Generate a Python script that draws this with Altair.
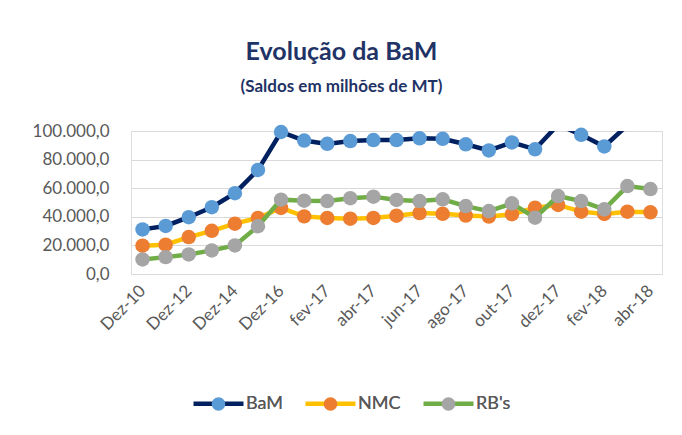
import altair as alt
import pandas as pd

categories = ["Dez-10", "Dez-11", "Dez-12", "Dez-13", "Dez-14", "Dez-15", "Dez-16",
              "jan-17", "fev-17", "mar-17", "abr-17", "mai-17", "jun-17", "jul-17",
              "ago-17", "set-17", "out-17", "nov-17", "dez-17", "jan-18", "fev-18",
              "mar-18", "abr-18"]
shown_labels = categories[::2]

series_names = ["BaM", "NMC", "RB's"]
bam = [31200, 33600, 39700, 46700, 56500, 72800, 99300, 93300, 91000, 93000, 93700, 93700,
       94900, 94500, 90700, 86400, 92000, 87200, 104500, 97300, 89200, 104000, 106000]
nmc = [19800, 20500, 25800, 30200, 35200, 39200, 46200, 40300, 39200, 38700, 39200, 40800,
       42600, 42100, 40900, 40200, 41800, 46400, 48300, 43600, 42000, 43600, 43100]
rbs = [10200, 11800, 13700, 16500, 20000, 33400, 52000, 51300, 51000, 53000, 54100, 51800,
       51000, 52200, 47500, 44000, 49400, 39400, 54500, 51000, 45200, 61500, 59400]

y_ticks = [0, 20000, 40000, 60000, 80000, 100000]

line_colors = ["#002060", "#FFC000", "#70AD47"]
marker_colors = ["#5B9BD5", "#ED7D31", "#A5A5A5"]
navy = "#1F3366"
grey_text = "#595959"
grid_col = "#D9D9D9"
font = "Lato"

rows = []
for name, vals in zip(series_names, [bam, nmc, rbs]):
    for c, v in zip(categories, vals):
        rows.append({"cat": c, "series": name, "value": v})
df = pd.DataFrame(rows)

label_expr = ("replace(replace(replace(format(datum.value, ',.1f'), ',', '#'), '.', ','), '#', '.')")

x_enc = alt.X("cat:N", sort=categories, title=None,
              axis=alt.Axis(values=shown_labels, labelAngle=-45, labelAlign="right",
                            labelBaseline="middle", labelFontSize=17, labelColor=grey_text,
                            labelFont=font, ticks=False, domainColor=grid_col, grid=False,
                            labelOverlap=False, labelPadding=14))
y_enc = alt.Y("value:Q", title=None,
              scale=alt.Scale(domain=[0, 100000], nice=False, zero=True),
              axis=alt.Axis(values=y_ticks, labelExpr=label_expr, grid=True, gridColor=grid_col,
                            domain=False, ticks=False, labelFontSize=17, labelColor=grey_text,
                            labelFont=font, labelPadding=22))

legend_common = dict(orient="none", legendX=60, legendY=245, direction="horizontal", title=None,
                     symbolSize=2500, symbolStrokeWidth=4.5, labelFontSize=18,
                     labelColor=grey_text, labelFont=font, columnPadding=13, labelOffset=0,
                     values=series_names)

stroke_enc = alt.Stroke("series:N", scale=alt.Scale(domain=series_names, range=line_colors),
                        legend=alt.Legend(symbolType="stroke", **legend_common))
# circle plus an invisible horizontal segment so both legends have the same entry widths
circle_path = "M-0.27,0a0.27,0.27 0 1,0 0.54,0a0.27,0.27 0 1,0 -0.54,0ZM-1,0L1,0"
# extra unused domain entry keeps the marker legend separate from the line legend
fill_enc = alt.Fill("series:N",
                    scale=alt.Scale(domain=series_names + ["_"], range=marker_colors + ["#FFFFFF"]),
                    legend=alt.Legend(symbolType=circle_path, symbolStrokeColor="transparent",
                                      symbolOpacity=1, **legend_common))

base = alt.Chart(df)
layers = []
for s in series_names:
    ln = base.mark_line(strokeWidth=4.5, clip=True).encode(
        x=x_enc, y=y_enc, stroke=stroke_enc
    ).transform_filter(alt.datum.series == s)
    pt = base.mark_circle(size=210, opacity=1).encode(
        x=x_enc, y=y_enc, fill=fill_enc
    ).transform_filter(alt.datum.series == s).transform_filter("datum.value <= 100000")
    layers += [ln, pt]

chart = alt.layer(*layers).properties(
    width=531, height=143,
    autosize=alt.AutoSizeParams(type="none"),
    padding={"left": 123, "top": 123, "right": 12, "bottom": 150},
    title=alt.TitleParams(text="Evolução da BaM", subtitle="(Saldos em milhões de MT)",
                          font=font, fontSize=25, fontWeight="bold", color=navy,
                          subtitleFont=font, subtitleFontSize=17, subtitleFontWeight="bold",
                          subtitleColor=navy, subtitlePadding=14, anchor="middle",
                          frame="group", offset=27, dx=-55)
).configure_view(stroke=None).configure(background="white")

chart.save("out.html", embed_options={"renderer": "svg", "actions": False})
